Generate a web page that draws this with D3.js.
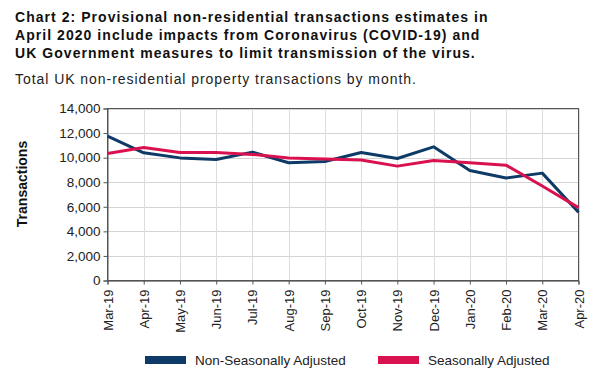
<!DOCTYPE html>
<html>
<head>
<meta charset="utf-8">
<script src="https://cdn.jsdelivr.net/npm/d3@7"></script>
<style>
  body { margin: 0; background: #fff; }
  svg { display: block; font-family: "Liberation Sans", Arial, sans-serif; }
</style>
</head>
<body>
<svg id="chart" width="603" height="373"></svg>
<script>
var months = ["Mar-19", "Apr-19", "May-19", "Jun-19", "Jul-19", "Aug-19", "Sep-19",
	"Oct-19", "Nov-19", "Dec-19", "Jan-20", "Feb-20", "Mar-20", "Apr-20"];
var nonSeasonal = [11750, 10390, 9980, 9850, 10450, 9580, 9690, 10420, 9930, 10880, 8960, 8340, 8740, 5550];
var seasonal = [10340, 10830, 10420, 10420, 10260, 9980, 9880, 9800, 9310, 9770, 9580, 9390, 7690, 5930];
var yTicks = [0, 2000, 4000, 6000, 8000, 10000, 12000, 14000];
var titleLines = [
	"Chart 2: Provisional non-residential transactions estimates in",
	"April 2020 include impacts from Coronavirus (COVID-19) and",
	"UK Government measures to limit transmission of the virus."
];
var subtitle = "Total UK non-residential property transactions by month.";
var seriesNames = ["Non-Seasonally Adjusted", "Seasonally Adjusted"];
var colours = ["#0d3a66", "#d9124f"];

var svg = d3.select("#chart");
// plot box (note: "top" is taken by window.top)
var pLeft = 107.5, pRight = 578.5, pTop = 108.5, pBottom = 280.5;

var x = d3.scalePoint().domain(months).range([pLeft, pRight]);
var y = d3.scaleLinear().domain([0, 14000]).range([pBottom, pTop]);

// title
svg.selectAll("text.title").data(titleLines).enter().append("text")
	.attr("class", "title")
	.attr("x", 15).attr("y", function(d, i) { return 22 + i * 18; })
	.attr("font-size", 14).attr("font-weight", "bold")
	.attr("letter-spacing", 1.05)
	.attr("fill", "#111")
	.text(function(d) { return d; });

svg.append("text")
	.attr("x", 15).attr("y", 84)
	.attr("font-size", 14).attr("letter-spacing", 0.95)
	.attr("fill", "#222")
	.text(subtitle);

// grid
svg.append("g").selectAll("line").data(yTicks).enter().append("line")
	.attr("x1", pLeft).attr("x2", pRight)
	.attr("y1", function(d) { return Math.round(y(d)) + 0.5; })
	.attr("y2", function(d) { return Math.round(y(d)) + 0.5; })
	.attr("stroke", "#d4d4d4");
svg.append("g").selectAll("line").data(months).enter().append("line")
	.attr("x1", function(d) { return Math.round(x(d)) + 0.5; })
	.attr("x2", function(d) { return Math.round(x(d)) + 0.5; })
	.attr("y1", pTop).attr("y2", pBottom)
	.attr("stroke", "#dcdcdc");

// frame
svg.append("rect")
	.attr("x", pLeft).attr("y", pTop)
	.attr("width", pRight - pLeft).attr("height", pBottom - pTop)
	.attr("fill", "none").attr("stroke", "#555");

// y axis
var yAxis = svg.append("g")
	.attr("transform", "translate(" + pLeft + ",0)")
	.call(d3.axisLeft(y).tickValues(yTicks).tickSize(4).tickFormat(d3.format(",")));
yAxis.select(".domain").attr("stroke", "#555");
yAxis.selectAll(".tick line").attr("stroke", "#555");
yAxis.selectAll("text").attr("font-size", 13.5).attr("fill", "#222")
	.attr("font-family", "Liberation Sans, Arial, sans-serif").attr("x", -7);

// x axis
var xAxis = svg.append("g")
	.attr("transform", "translate(0," + pBottom + ")")
	.call(d3.axisBottom(x).tickSize(4));
xAxis.select(".domain").attr("stroke", "#555");
xAxis.selectAll(".tick line").attr("stroke", "#555");
xAxis.selectAll("text")
	.attr("font-size", 13).attr("fill", "#222")
	.attr("font-family", "Liberation Sans, Arial, sans-serif")
	.attr("transform", "rotate(-90)")
	.attr("text-anchor", "end")
	.attr("x", -9).attr("y", 0).attr("dy", "0.35em");

// y label
svg.append("text")
	.attr("transform", "translate(27,184) rotate(-90)")
	.attr("text-anchor", "middle")
	.attr("font-size", 14).attr("font-weight", "bold").attr("fill", "#111")
	.text("Transactions");

// lines
var line = d3.line()
	.x(function(d, i) { return x(months[i]); })
	.y(function(d) { return y(d); });

[nonSeasonal, seasonal].forEach(function(s, k) {
	svg.append("path")
		.datum(s)
		.attr("d", line)
		.attr("fill", "none")
		.attr("stroke", colours[k])
		.attr("stroke-width", 3)
		.attr("stroke-linejoin", "round");
});

// legend
var legendX = [145, 378];
seriesNames.forEach(function(n, k) {
	svg.append("rect")
		.attr("x", legendX[k]).attr("y", 356)
		.attr("width", 41).attr("height", 8)
		.attr("fill", colours[k]);
	svg.append("text")
		.attr("x", legendX[k] + 50).attr("y", 365)
		.attr("font-size", 13.5).attr("fill", "#222")
		.text(n);
});
</script>
</body>
</html>
